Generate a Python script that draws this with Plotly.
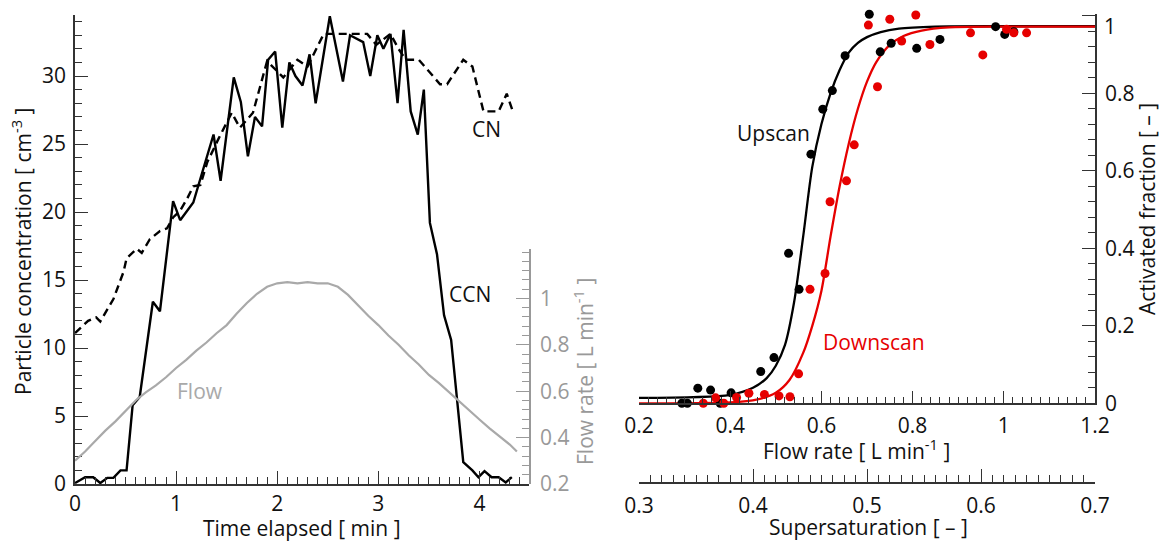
import plotly.graph_objects as go

W, H = 1161, 543
def px(x):
    return x / W
def py(y):
    return 1 - y / H

FONT = "Open Sans"
FS = 21
AX = "#333333"
GRAY = "#a9a9a9"
RED = "#e60000"

# ---------------- Left panel data ----------------
ccn_t = [0.00, 0.10, 0.18, 0.25, 0.32, 0.38, 0.45, 0.51, 0.57, 0.64, 0.77, 0.84, 0.97, 1.04,
         1.17, 1.37, 1.44, 1.57, 1.64, 1.71, 1.78, 1.85, 1.91, 1.98, 2.05, 2.12, 2.18, 2.25,
         2.32, 2.38, 2.52, 2.65, 2.72, 2.79, 2.85, 2.92, 2.99, 3.05, 3.12, 3.19, 3.25, 3.32,
         3.39, 3.45, 3.51, 3.58, 3.65, 3.72, 3.84, 3.93, 3.99, 4.05, 4.12, 4.19, 4.26, 4.32]
ccn = [0.07, 0.5, 0.5, 0.07, 0.45, 0.45, 1.0, 1.0, 5.8, 6.4, 13.4, 12.7, 20.8, 19.4,
       20.7, 25.7, 22.3, 29.9, 28.1, 24.1, 27.0, 26.3, 31.2, 31.8, 26.2, 31.0, 30.0, 29.3,
       31.6, 28.0, 34.4, 29.6, 33.0, 32.7, 32.5, 30.0, 33.0, 32.0, 33.1, 28.0, 33.4, 27.4,
       25.7, 29.0, 19.2, 16.9, 12.4, 10.6, 1.6, 1.0, 0.5, 0.95, 0.5, 0.5, 0.12, 0.5]

cn_t = [0.00, 0.13, 0.21, 0.25, 0.38, 0.48, 0.51, 0.61, 0.66, 0.74, 0.84, 0.91, 0.97, 1.04,
        1.11, 1.17, 1.24, 1.31, 1.42, 1.55, 1.63, 1.76, 1.90, 2.06, 2.20, 2.30, 2.46, 2.89,
        2.98, 3.12, 3.20, 3.27, 3.40, 3.61, 3.68, 3.84, 3.93, 4.04, 4.19, 4.27, 4.33]
cn = [11.1, 12.0, 12.25, 11.95, 13.6, 15.6, 16.6, 17.3, 17.0, 18.0, 18.6, 18.8, 19.6, 20.1,
      21.0, 21.9, 22.0, 23.7, 25.4, 27.3, 26.2, 27.3, 31.1, 29.9, 31.2, 30.7, 33.1, 33.1,
      32.3, 33.1, 32.0, 31.2, 31.2, 29.4, 29.4, 31.2, 30.7, 27.4, 27.4, 28.7, 27.4]

flow_t = [0.0, 0.1, 0.2, 0.3, 0.4, 0.5, 0.6, 0.7, 0.8, 0.9, 1.0, 1.1, 1.2, 1.3, 1.4, 1.5,
          1.6, 1.7, 1.8, 1.9, 2.0, 2.1, 2.2, 2.3, 2.4, 2.5, 2.6, 2.7, 2.8, 2.9, 3.0, 3.1,
          3.2, 3.3, 3.4, 3.5, 3.6, 3.7, 3.8, 3.9, 4.0, 4.1, 4.2, 4.3, 4.37]
flow = [0.30, 0.34, 0.385, 0.43, 0.47, 0.515, 0.56, 0.595, 0.625, 0.66, 0.70, 0.735, 0.775,
        0.81, 0.85, 0.885, 0.935, 0.98, 1.02, 1.05, 1.065, 1.07, 1.065, 1.07, 1.065, 1.065,
        1.05, 1.015, 0.97, 0.925, 0.885, 0.84, 0.80, 0.755, 0.715, 0.67, 0.635, 0.595,
        0.555, 0.515, 0.478, 0.44, 0.405, 0.37, 0.34]

# ---------------- Right panel data ----------------
up_flow = [0.294, 0.306, 0.329, 0.357, 0.378, 0.402, 0.467, 0.496, 0.528, 0.551, 0.577,
           0.603, 0.624, 0.652, 0.705, 0.729, 0.753, 0.809, 0.860, 0.982, 1.002, 1.022]
up_af = [0.0, 0.0, 0.039, 0.034, 0.0, 0.027, 0.082, 0.118, 0.387, 0.294, 0.643,
         0.759, 0.807, 0.897, 1.004, 0.907, 0.929, 0.916, 0.939, 0.972, 0.952, 0.959]

down_flow = [0.341, 0.368, 0.386, 0.414, 0.441, 0.475, 0.507, 0.531, 0.550, 0.575, 0.608,
             0.619, 0.655, 0.672, 0.703, 0.723, 0.750, 0.776, 0.807, 0.838, 0.927, 0.954,
             1.006, 1.022, 1.050]
down_af = [0.0, 0.014, 0.0, 0.015, 0.026, 0.023, 0.019, 0.017, 0.076, 0.294, 0.335,
           0.520, 0.574, 0.667, 0.976, 0.817, 0.991, 0.935, 1.002, 0.926, 0.956, 0.899,
           0.965, 0.956, 0.956]

up_fit_flow = [0.20, 0.40, 0.45, 0.48, 0.50, 0.52, 0.54, 0.56, 0.58, 0.60, 0.62, 0.64,
               0.66, 0.68, 0.70, 0.73, 0.77, 0.85, 1.00, 1.20]
up_fit = [0.014, 0.022, 0.04, 0.065, 0.097, 0.15, 0.26, 0.43, 0.61, 0.72, 0.80, 0.86,
          0.905, 0.93, 0.945, 0.958, 0.967, 0.972, 0.973, 0.973]

down_fit_flow = [0.20, 0.40, 0.46, 0.50, 0.53, 0.56, 0.58, 0.60, 0.62, 0.64, 0.66, 0.68,
                 0.70, 0.72, 0.75, 0.78, 0.82, 0.88, 1.00, 1.20]
down_fit = [0.0, 0.002, 0.01, 0.027, 0.06, 0.13, 0.20, 0.29, 0.43, 0.56, 0.67, 0.76,
            0.83, 0.88, 0.925, 0.948, 0.962, 0.970, 0.972, 0.972]

fig = go.Figure()

# Left panel
fig.add_trace(go.Scatter(x=flow_t, y=flow, mode="lines", xaxis="x", yaxis="y2",
                         line=dict(color=GRAY, width=2.2), showlegend=False, hoverinfo="skip"))
fig.add_trace(go.Scatter(x=cn_t, y=cn, mode="lines", xaxis="x", yaxis="y",
                         line=dict(color="black", width=2.4, dash="8px,5px"), showlegend=False))
fig.add_trace(go.Scatter(x=ccn_t, y=ccn, mode="lines", xaxis="x", yaxis="y",
                         line=dict(color="black", width=2.4), showlegend=False))

# Right panel
fig.add_trace(go.Scatter(x=up_fit_flow, y=up_fit, mode="lines", xaxis="x2", yaxis="y3",
                         line=dict(color="black", width=2.3, shape="spline", smoothing=0.8),
                         showlegend=False))
fig.add_trace(go.Scatter(x=down_fit_flow, y=down_fit, mode="lines", xaxis="x2", yaxis="y3",
                         line=dict(color=RED, width=2.3, shape="spline", smoothing=0.8),
                         showlegend=False))
fig.add_trace(go.Scatter(x=up_flow, y=up_af, mode="markers", xaxis="x2", yaxis="y3",
                         marker=dict(color="black", size=9), cliponaxis=False, showlegend=False))
fig.add_trace(go.Scatter(x=down_flow, y=down_af, mode="markers", xaxis="x2", yaxis="y3",
                         marker=dict(color=RED, size=9), cliponaxis=False, showlegend=False))
# supersaturation axis host (empty)
fig.add_trace(go.Scatter(x=[], y=[], xaxis="x3", yaxis="y3", showlegend=False, hoverinfo="skip"))

tickfont = dict(family=FONT, size=FS, color="#111111")

common = dict(showgrid=False, zeroline=False, showline=True, linecolor=AX, linewidth=1.6,
              ticks="inside", ticklen=13, tickwidth=1.4, tickcolor=AX, tickfont=tickfont,
              automargin=False)

fig.update_layout(
    template="none",
    width=W, height=H, margin=dict(l=0, r=0, t=0, b=0, pad=0),
    paper_bgcolor="white", plot_bgcolor="rgba(0,0,0,0)",
    font=dict(family=FONT, size=FS, color="#111111"),
    xaxis=dict(domain=[px(75), px(529)], range=[0, 4.49], anchor="y",
               tick0=0, dtick=1, ticklabelstandoff=0,
               minor=dict(ticks="inside", ticklen=7, dtick=0.1, tickcolor=AX, tickwidth=1.2),
               **common),
    yaxis=dict(domain=[py(484), py(15)], range=[0, 34.49], anchor="x", side="left",
               tick0=0, dtick=5, ticklabelstandoff=3,
               minor=dict(ticks="inside", ticklen=7, dtick=1, tickcolor=AX, tickwidth=1.2),
               **common),
    yaxis2=dict(domain=[py(484), py(249)], range=[0.2, 1.213], anchor="x", side="right",
                tickvals=[0.2, 0.4, 0.6, 0.8, 1.0], ticktext=["0.2", "0.4", "0.6", "0.8", "1"],
                showgrid=False, zeroline=False, showline=True, linecolor="#999999", linewidth=1.6,
                ticks="inside", ticklen=13, tickwidth=1.4, tickcolor="#999999", automargin=False,
                tickfont=dict(family=FONT, size=FS, color="#999999"), ticklabelstandoff=5,
                minor=dict(ticks="inside", ticklen=7, tick0=0.2, dtick=0.04,
                           tickcolor="#999999", tickwidth=1.2)),
    xaxis2=dict(domain=[px(639), px(1095)], range=[0.2, 1.2], anchor="y3",
                ticklabelstandoff=3,
                tickvals=[0.2, 0.4, 0.6, 0.8, 1.0, 1.2],
                ticktext=["0.2", "0.4", "0.6", "0.8", "1", "1.2"],
                minor=dict(ticks="inside", ticklen=7, tick0=0.2, dtick=0.02, tickcolor=AX, tickwidth=1.2),
                **common),
    yaxis3=dict(domain=[py(403.3), py(14)], range=[0, 1.0046], anchor="x2", side="right",
                tickvals=[0, 0.2, 0.4, 0.6, 0.8, 1.0], ticktext=["0", "0.2", "0.4", "0.6", "0.8", ""],
                ticklabelstandoff=4,
                minor=dict(ticks="inside", ticklen=7, tick0=0, dtick=0.04, tickcolor=AX, tickwidth=1.2),
                **common),
    xaxis3=dict(domain=[px(639), px(1095)], range=[0.3, 0.7], anchor="free", position=py(483),
                tickvals=[0.3, 0.4, 0.5, 0.6, 0.7], ticktext=["0.3", "0.4", "0.5", "0.6", "0.7"],
                ticklabelstandoff=4,
                minor=dict(ticks="inside", ticklen=7, tick0=0.3, dtick=0.01, tickcolor=AX, tickwidth=1.2),
                **common),
)

def ann(text, x, y, color="#111111", angle=0, xanchor="center", size=FS):
    fig.add_annotation(text=text, x=px(x), y=py(y), xref="paper", yref="paper",
                       showarrow=False, textangle=angle, xanchor=xanchor, yanchor="middle",
                       font=dict(family=FONT, size=size, color=color))

# axis titles
ann("Time elapsed [ min ]", 302, 528)
ann("Particle concentration [ cm<sup>-3</sup> ]", 22, 252, angle=-90)
ann("Flow rate [ L min<sup>-1</sup> ]", 583, 372, color="#999999", angle=-90)
ann("Flow rate [ L min<sup>-1</sup> ]", 856, 449)
ann("Supersaturation [ \u2013 ]", 868, 527)
ann("Activated fraction [ \u2013 ]", 1147, 209, angle=-90)
ann("1", 1102, 26, xanchor="left")

# series labels
ann("CN", 486, 129)
ann("CCN", 470, 294)
ann("Flow", 200, 391, color=GRAY)
ann("Upscan", 773, 133)
ann("Downscan", 874, 342, color=RED)

fig.write_html("out.html")
